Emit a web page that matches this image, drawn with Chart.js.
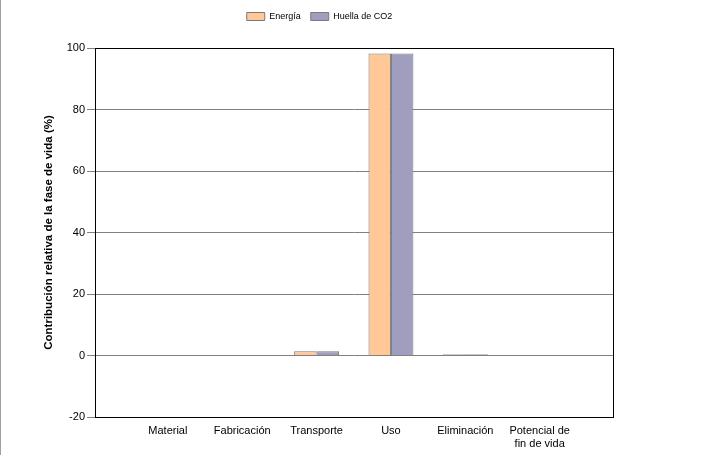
<!DOCTYPE html>
<html lang="es">
  <head>
    <meta charset="UTF-8" />
    <title>Contribución relativa de la fase de vida</title>
    <script src="https://cdn.jsdelivr.net/npm/chart.js@4"></script>
    <style>
      html, body { margin: 0; padding: 0; background: #fff; }
      #wrap { width: 718px; height: 455px; border-left: 1px solid #a0a0a0; }
    </style>
  </head>
  <body>
    <div id="wrap"><canvas id="myChart" width="718" height="455"></canvas></div>

    <script>
      // fases del ciclo de vida
      const fases = ['Material', 'Fabricación', 'Transporte', 'Uso', 'Eliminación', ['Potencial de', 'fin de vida']];
      const energia = [0, 0, 1.4, 98.2, 0.4, 0];
      const huellaCO2 = [0, 0, 1.4, 98.2, 0.4, 0];

      // marco negro alrededor del área del gráfico
      const frame = {
        id: 'frame',
        afterDatasetsDraw(chart) {
          const a = chart.chartArea;
          const ctx = chart.ctx;
          ctx.save();
          ctx.strokeStyle = '#000';
          ctx.lineWidth = 1;
          ctx.strokeRect(Math.round(a.left) + 0.5, Math.round(a.top) + 0.5,
            Math.round(a.right - a.left), Math.round(a.bottom - a.top));
          ctx.restore();
        }
      };

      const ctx = document.getElementById('myChart').getContext('2d');
      const myChart = new Chart(ctx, {
        type: 'bar',
        data: {
          datasets: [
            {
              label: 'Energía',
              data: energia.map((v, i) => ({ x: i, y: v })),
              backgroundColor: '#ffc896',
              borderColor: '#7a7a7a',
              borderWidth: 1
            },
            {
              label: 'Huella de CO2',
              data: huellaCO2.map((v, i) => ({ x: i, y: v })),
              backgroundColor: '#a09ebe',
              borderColor: '#7a7a7a',
              borderWidth: 1
            }
          ]
        },
        options: {
          responsive: false,
          animation: false,
          layout: { padding: { left: 25, right: 106, top: 2, bottom: 0 } },
          datasets: { bar: { categoryPercentage: 0.604, barPercentage: 1 } },
          plugins: {
            tooltip: { enabled: false },
            legend: {
              position: 'top',
              labels: {
                boxWidth: 18,
                boxHeight: 8,
                padding: 10,
                color: '#000',
                font: { family: 'Liberation Sans, Arial', size: 9 }
              }
            },
            // espacio vacío entre la leyenda y el gráfico
            title: {
              display: true,
              text: '',
              weight: 900,
              font: { size: 1 },
              padding: 7.9
            }
          },
          scales: {
            x: {
              type: 'linear',
              min: -0.98,
              max: 5.986,
              offset: false,
              grid: { display: false, drawTicks: false, offset: false },
              border: { display: false },
              afterBuildTicks(s) { s.ticks = fases.map((f, i) => ({ value: i })); },
              ticks: {
                color: '#000',
                padding: 7,
                maxRotation: 0,
                autoSkip: false,
                callback: (value) => fases[value],
                font: { family: 'Liberation Sans, Arial', size: 11 }
              },
              afterFit(s) { s.height = 38; }
            },
            y: {
              min: -20,
              max: 100,
              grid: { color: '#808080', tickLength: 8, tickColor: '#808080' },
              border: { color: '#000' },
              ticks: {
                stepSize: 20,
                color: '#000',
                padding: 2,
                font: { family: 'Liberation Sans, Arial', size: 11 }
              },
              title: {
                display: true,
                text: 'Contribución relativa de la fase de vida (%)',
                color: '#000',
                font: { family: 'Liberation Sans, Arial', size: 11.5, weight: 'bold' },
                padding: { top: 16, bottom: 0 }
              },
              afterFit(s) { s.width = 69; }
            }
          }
        },
        plugins: [frame]
      });
    </script>
  </body>
</html>
